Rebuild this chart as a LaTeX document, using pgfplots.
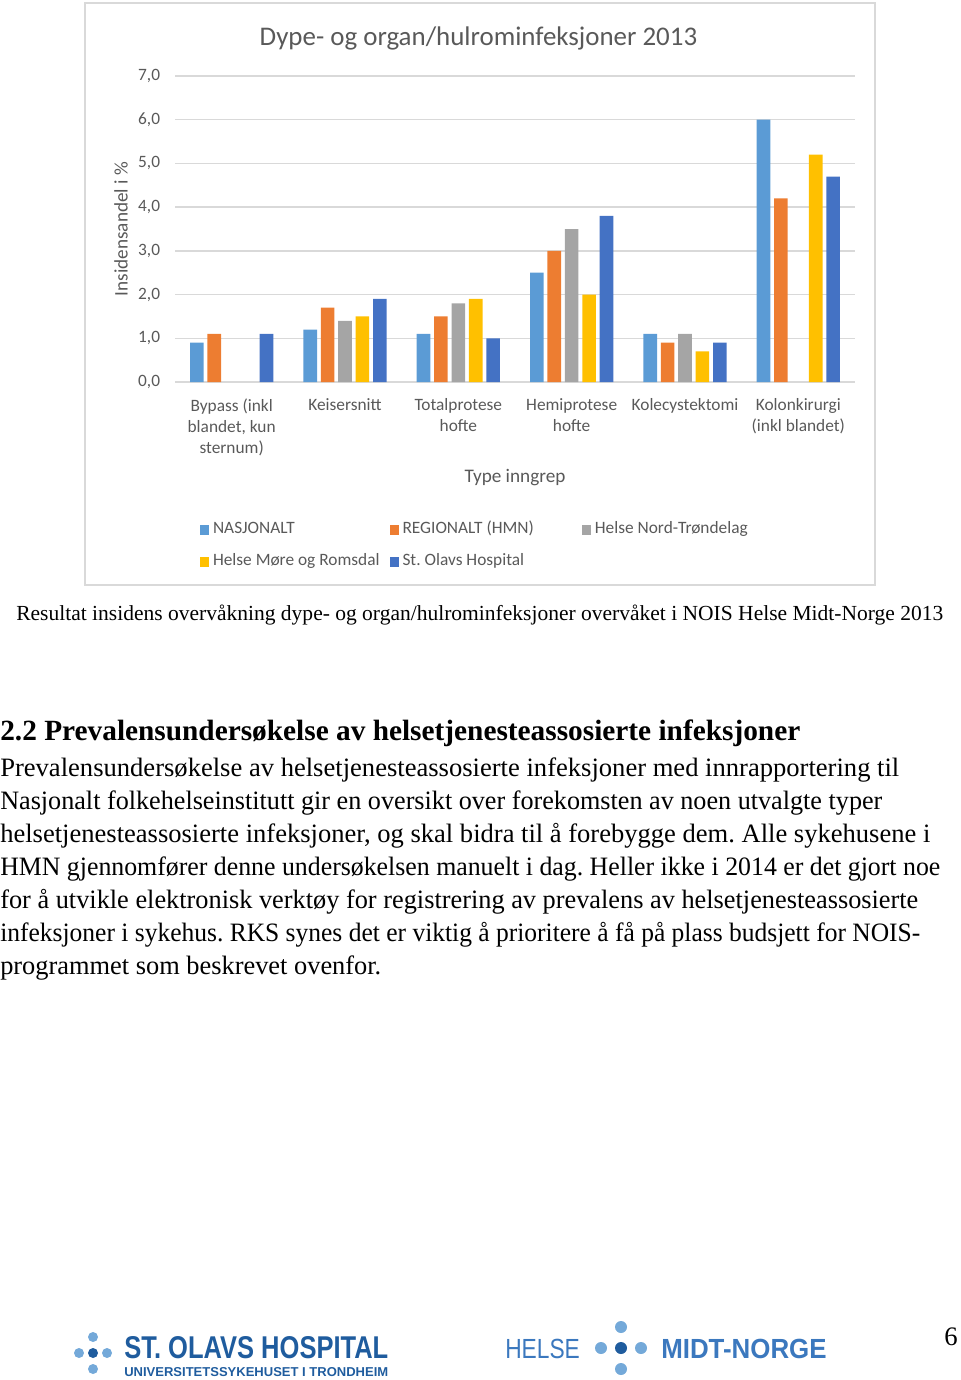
\documentclass[border=0pt]{standalone}
\usepackage{pgfplots}
\pgfplotsset{compat=1.18}
\usepackage{graphicx}
\usepackage{fontspec}
\setmainfont{Liberation Serif}
\newfontfamily\chartfont{Carlito}
\newfontfamily\logofont{Liberation Sans}
\definecolor{cNas}{HTML}{5B9BD5}
\definecolor{cReg}{HTML}{ED7D31}
\definecolor{cHNT}{HTML}{A5A5A5}
\definecolor{cHMR}{HTML}{FFC000}
\definecolor{cStO}{HTML}{4472C4}
\definecolor{txtgray}{HTML}{595959}
\definecolor{gridgray}{HTML}{D9D9D9}
\definecolor{lightdot}{HTML}{74A9D9}
\definecolor{darkdot}{HTML}{1F5C9E}
\definecolor{logoblue}{HTML}{1F5C9E}
\definecolor{helseblue}{HTML}{3B78BE}
\pgfplotsset{sqlegend/.style={legend image code/.code={\fill[##1,draw=none] (0pt,-3.5pt) rectangle (7pt,3.5pt);}}}
\newcommand\fitline[2]{\resizebox{#1}{\height}{#2}}
\frenchspacing
\begin{document}
\frenchspacing
\begin{tikzpicture}
\useasboundingbox (0pt,0pt) rectangle (720pt,-1035pt);
\begin{scope}[x=0.75pt,y=-0.75pt]
\draw[gridgray, line width=1pt] (85,3) rectangle (875,585);
\end{scope}
\begin{axis}[
  at={(131.25pt,-286.5pt)}, anchor=south west,
  scale only axis, width=510pt, height=229.5pt,
  ymin=0, ymax=7, xmin=-0.5, xmax=5.5,
  ytick={0,1,2,3,4,5,6,7},
  yticklabels={{0,0},{1,0},{2,0},{3,0},{4,0},{5,0},{6,0},{7,0}},
  xtick={0,1,2,3,4,5},
  xticklabels={{Bypass (inkl\\blandet, kun\\sternum)},{Keisersnitt},{Totalprotese\\hofte},{Hemiprotese\\hofte},{Kolecystektomi},{Kolonkirurgi\\(inkl blandet)}},
  ybar=2.85pt, bar width=10.2pt,
  axis line style={draw=none},
  major tick length=0pt,
  ymajorgrids, grid style={gridgray, line width=1pt},
  yticklabel style={font=\chartfont\fontsize{13}{15.75}\selectfont, text=txtgray, anchor=east, inner sep=0pt, xshift=-11pt},
  xticklabel style={font=\chartfont\fontsize{13}{15.75}\selectfont, text=txtgray, anchor=north, align=center, inner sep=0pt, yshift=-12.5pt},
  xlabel={Type inngrep},
  xlabel style={font=\chartfont\fontsize{14.4}{17}\selectfont, text=txtgray, at={(axis description cs:0.5,-0.3137)}, anchor=center},
  ylabel={Insidensandel i \%},
  ylabel style={font=\chartfont\fontsize{14.4}{17}\selectfont, text=txtgray, at={(axis description cs:-0.0794,0.5)}, anchor=center, rotate=0},
  title={Dype- og organ/hulrominfeksjoner 2013},
  title style={font=\chartfont\fontsize{20.2}{24}\selectfont, text=txtgray, at={(axis description cs:0.4463,1.0980)}, anchor=center},
  legend columns=3,
  legend cell align=left,
  legend style={draw=none, fill=none, at={(axis description cs:0.0368,-0.5359)}, anchor=west, inner sep=0pt, outer sep=0pt,
    font=\chartfont\fontsize{13}{15.75}\selectfont, text=txtgray, row sep=12pt,
    nodes={inner sep=0pt, text height=9pt, text depth=3pt},
    /tikz/every odd column/.style={column sep=2.75pt},
    /tikz/column 2/.style={column sep=7.5pt},
    /tikz/column 4/.style={column sep=36pt}},
]
\addplot[fill=cNas, draw=none, sqlegend] coordinates {(0,0.9) (1,1.2) (2,1.1) (3,2.5) (4,1.1) (5,6.0)};
\addplot[fill=cReg, draw=none, sqlegend] coordinates {(0,1.1) (1,1.7) (2,1.5) (3,3.0) (4,0.9) (5,4.2)};
\addplot[fill=cHNT, draw=none, sqlegend] coordinates {(1,1.4) (2,1.8) (3,3.5) (4,1.1)};
\addplot[fill=cHMR, draw=none, sqlegend] coordinates {(1,1.5) (2,1.9) (3,2.0) (4,0.7) (5,5.2)};
\addplot[fill=cStO, draw=none, sqlegend] coordinates {(0,1.1) (1,1.9) (2,1.0) (3,3.8) (4,0.9) (5,4.7)};
\legend{NASJONALT, REGIONALT (HMN), Helse Nord-Trøndelag, Helse Møre og Romsdal, St. Olavs Hospital}
\end{axis}
\begin{scope}[x=0.75pt,y=-0.75pt]
\node[anchor=base west, inner sep=0pt, font=\fontsize{16.1}{19}\selectfont] at (16,620) {\fitline{695.25pt}{Resultat insidens overvåkning dype- og organ/hulrominfeksjoner overvåket i NOIS Helse Midt-Norge 2013}};
\node[anchor=base west, inner sep=0pt, font=\bfseries\fontsize{22}{26}\selectfont] at (0,740) {\fitline{600pt}{2.2 Prevalensundersøkelse av helsetjenesteassosierte infeksjoner}};
\begin{scope}[every node/.style={anchor=base west, inner sep=0pt, font=\fontsize{19.9}{24.75}\selectfont}]
\node at (0,776) {\fitline{674.25pt}{Prevalensundersøkelse av helsetjenesteassosierte infeksjoner med innrapportering til}};
\node at (0,809) {\fitline{661.5pt}{Nasjonalt folkehelseinstitutt gir en oversikt over forekomsten av noen utvalgte typer}};
\node at (0,842) {\fitline{697.5pt}{helsetjenesteassosierte infeksjoner, og skal bidra til å forebygge dem. Alle sykehusene i}};
\node at (0,875) {\fitline{705pt}{HMN gjennomfører denne undersøkelsen manuelt i dag. Heller ikke i 2014 er det gjort noe}};
\node at (0,908) {\fitline{688.5pt}{for å utvikle elektronisk verktøy for registrering av prevalens av helsetjenesteassosierte}};
\node at (0,941) {\fitline{690pt}{infeksjoner i sykehus. RKS synes det er viktig å prioritere å få på plass budsjett for NOIS-}};
\node at (0,974) {\fitline{285.75pt}{programmet som beskrevet ovenfor.}};
\end{scope}
\node[anchor=base east, inner sep=0pt, font=\fontsize{20}{24}\selectfont] at (958,1345) {6};
% logos
\fill[lightdot] (93,1337) circle (5);
\fill[lightdot] (79,1353) circle (5);
\fill[darkdot] (93,1353) circle (5);
\fill[lightdot] (107,1353) circle (5);
\fill[lightdot] (93,1369) circle (5);
\node[anchor=base west, inner sep=0pt, text=logoblue] at (124,1358) {\resizebox{198pt}{16.5pt}{\logofont\bfseries ST. OLAVS HOSPITAL}};
\node[anchor=base west, inner sep=0pt, text=logoblue] at (124,1376) {\resizebox{198pt}{6.75pt}{\logofont\bfseries UNIVERSITETSSYKEHUSET I TRONDHEIM}};
\node[anchor=base west, inner sep=0pt, text=helseblue] at (505,1358) {\resizebox{56pt}{14.5pt}{\logofont HELSE}};
\fill[lightdot] (601,1348) circle (6);
\fill[darkdot] (621,1348) circle (6);
\fill[lightdot] (641,1348) circle (6);
\fill[lightdot] (621,1327) circle (6);
\fill[lightdot] (621,1369) circle (6);
\node[anchor=base west, inner sep=0pt, text=helseblue] at (661,1358) {\resizebox{124pt}{14.5pt}{\logofont\bfseries MIDT-NORGE}};
\end{scope}
\end{tikzpicture}
\end{document}
